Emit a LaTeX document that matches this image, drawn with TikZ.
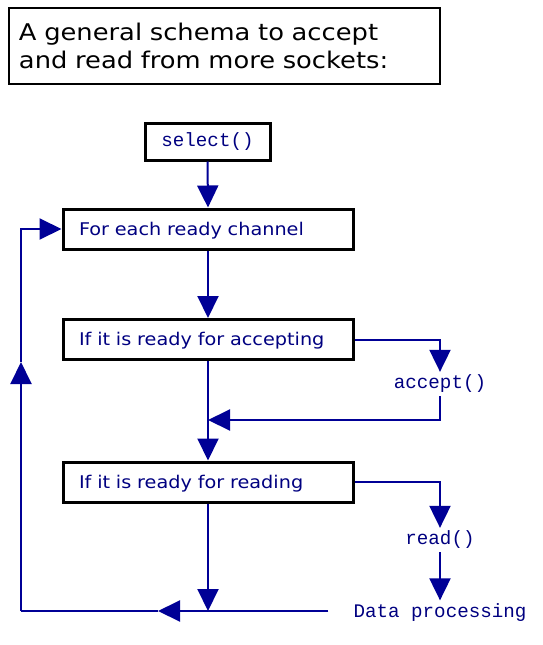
\documentclass[tikz,border=0pt]{standalone}
\usepackage{fontspec}
\setmainfont{DejaVu Sans}
\newfontfamily\widefont[FakeStretch=1.12]{DejaVu Sans}
\newfontfamily\stepfont[FakeStretch=1.1]{DejaVu Sans}
\newfontfamily\monofont{Liberation Mono}
\usetikzlibrary{arrows.meta}
\definecolor{lineblue}{RGB}{0,0,150}
\definecolor{txtblue}{RGB}{0,0,128}
\begin{document}
\begin{tikzpicture}[x=1pt,y=-1pt,
  titlebox/.style={draw=black,line width=2.5pt,minimum width=431pt,minimum height=76pt,
    inner xsep=10pt,text width=411pt,align=left,font=\widefont\fontsize{23}{28}\selectfont},
  stepbox/.style={draw=black,line width=3pt,minimum width=290pt,minimum height=40pt,
    inner xsep=16pt,text width=258pt,text height=12.8pt,text depth=0pt,align=left,text=txtblue,font=\stepfont\fontsize{17.5}{20}\selectfont},
  selbox/.style={draw=black,line width=3pt,minimum width=125pt,minimum height=37pt,
    text=txtblue,font=\monofont\fontsize{19.2}{22}\selectfont},
  codetext/.style={inner sep=3pt,text=txtblue,font=\monofont\fontsize{19.2}{22}\selectfont},
  conn/.style={draw=lineblue,line width=2pt},
  tip/.style={-{Triangle[width=21pt,length=22pt]}}
]
\useasboundingbox (0,0) rectangle (542,645);
\node[titlebox] (title) at (224.5,46) {A general schema to accept\\and read from more sockets:};
\node[selbox] (sel) at (207.5,141.5) {select()};
\node[stepbox] (each) at (208,229) {For each ready channel};
\node[stepbox] (acc) at (208,339.5) {If it is ready for accepting};
\node[stepbox] (rd) at (208,482) {If it is ready for reading};
\node[codetext] (accf) at (440,384) {accept()};
\node[codetext] (rdf) at (440,540) {read()};
\node[codetext] (dp) at (440,612.5) {Data processing};
\coordinate (ja) at (208,420);
\coordinate (jb) at (208,611);
\coordinate (m1) at (158,611);
\coordinate (c1) at (21,611);
\coordinate (m2) at (21,362);
\coordinate (c2) at (21,229);
\draw[conn,tip] (sel.south) -- (each.north);
\draw[conn,tip] (each.south) -- (acc.north);
\draw[conn,tip] (acc.east) -| (accf.north);
\draw[conn,tip] (accf.south) |- (ja);
\draw[conn,tip] (acc.south) -- (rd.north);
\draw[conn,tip] (rd.east) -| (rdf.north);
\draw[conn,tip] (rdf.south) -- (dp.north);
\draw[conn,tip] (rd.south) -- (jb);
\draw[conn,tip] ([xshift=-22pt,yshift=1.5pt]dp.west) -- (m1);
\draw[conn] (m1) -- (c1);
\draw[conn,tip] (c1) -- (m2);
\draw[conn,tip] (m2) -- (c2) -- (each.west);
\end{tikzpicture}
\end{document}
